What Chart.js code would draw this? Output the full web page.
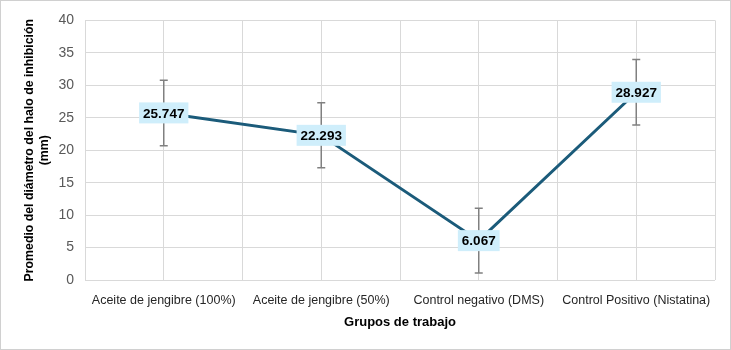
<!DOCTYPE html>
<html>
<head>
<meta charset="utf-8">
<script src="https://cdn.jsdelivr.net/npm/chart.js@4/dist/chart.umd.min.js"></script>
<style>
  html, body { margin: 0; padding: 0; background: #fff; }
  #wrap { width: 731px; height: 350px; box-sizing: border-box; border: 1px solid #d0d0d0; }
</style>
</head>
<body>
<div id="wrap"><canvas id="chart"></canvas></div>
<script>
const groups = ['Aceite de jengibre (100%)', 'Aceite de jengibre (50%)', 'Control negativo (DMS)', 'Control Positivo (Nistatina)'];
const means = [25.747, 22.293, 6.067, 28.927];
const errors = [5.05, 5.0, 5.0, 5.05];
const yTicks = [0, 5, 10, 15, 20, 25, 30, 35, 40];

// error bars under the line, value boxes on top
const barsAndLabels = {
    id: 'barsAndLabels',
    beforeDatasetsDraw(chart) {
        const ctx = chart.ctx;
        const x = chart.scales.x, y = chart.scales.y;
        ctx.save();
        ctx.strokeStyle = '#808080';
        ctx.lineWidth = 1.5;
        means.forEach((m, i) => {
            const px = x.getPixelForValue(i);
            const top = y.getPixelForValue(m + errors[i]);
            const bot = y.getPixelForValue(m - errors[i]);
            ctx.beginPath();
            ctx.moveTo(px, top); ctx.lineTo(px, bot);
            ctx.moveTo(px - 4, top); ctx.lineTo(px + 4, top);
            ctx.moveTo(px - 4, bot); ctx.lineTo(px + 4, bot);
            ctx.stroke();
        });
        ctx.restore();
    },
    afterDatasetsDraw(chart) {
        const ctx = chart.ctx;
        const x = chart.scales.x, y = chart.scales.y;
        ctx.save();
        ctx.font = 'bold 13.5px "Liberation Sans", Arial, sans-serif';
        ctx.textAlign = 'center';
        ctx.textBaseline = 'middle';
        means.forEach((m, i) => {
            const px = x.getPixelForValue(i);
            const py = y.getPixelForValue(m);
            const txt = m.toFixed(3);
            const w = ctx.measureText(txt).width + 8;
            const h = 21;
            ctx.fillStyle = '#cfeefb';
            ctx.fillRect(px - w / 2, py - h / 2, w, h);
            ctx.fillStyle = '#000';
            ctx.fillText(txt, px, py + 1);
        });
        ctx.restore();
    }
};

const gridColor = '#d9d9d9';

new Chart(document.getElementById('chart'), {
    type: 'line',
    data: {
        labels: groups,
        datasets: [{
            data: means,
            borderColor: '#1b5b7a',
            borderWidth: 3,
            pointRadius: 0,
            tension: 0,
            fill: false
        }]
    },
    options: {
        responsive: true,
        maintainAspectRatio: false,
        animation: false,
        layout: { padding: { top: 17, right: 15, bottom: 0, left: 0 } },
        plugins: {
            legend: { display: false },
            tooltip: { enabled: false }
        },
        scales: {
            x: {
                offset: true,
                grid: { color: gridColor, offset: true, drawTicks: false },
                border: { display: false },
                ticks: {
                    padding: 13,
                    color: '#262626',
                    maxRotation: 0,
                    font: { family: '"Liberation Sans", Arial, sans-serif', size: 12.5 }
                },
                title: {
                    display: true,
                    text: 'Grupos de trabajo',
                    color: '#000',
                    font: { family: '"Liberation Sans", Arial, sans-serif', size: 13, weight: 'bold' },
                    padding: { top: 0, bottom: 19 }
                },
                afterFit(scale) { scale.height = 69; }
            },
            x2: {
                type: 'category',
                labels: groups,
                offset: true,
                position: 'bottom',
                grid: { color: gridColor, offset: false, drawTicks: false },
                border: { display: false },
                ticks: { display: false },
                afterFit(scale) { scale.height = 0; }
            },
            y: {
                min: 0,
                max: 40,
                afterBuildTicks(scale) { scale.ticks = yTicks.map(v => ({ value: v })); },
                grid: { color: gridColor, drawTicks: false },
                border: { display: false },
                ticks: {
                    padding: 11,
                    color: '#595959',
                    font: { family: '"Liberation Sans", Arial, sans-serif', size: 14 }
                },
                title: {
                    display: true,
                    text: ['Promedio del diámetro del halo de inhibición', '(mm)'],
                    color: '#000',
                    font: { family: '"Liberation Sans", Arial, sans-serif', size: 12.3, weight: 'bold' },
                    padding: { top: 21, bottom: 0 }
                },
                afterFit(scale) { scale.width = 84; }
            }
        }
    },
    plugins: [barsAndLabels]
});
</script>
</body>
</html>
